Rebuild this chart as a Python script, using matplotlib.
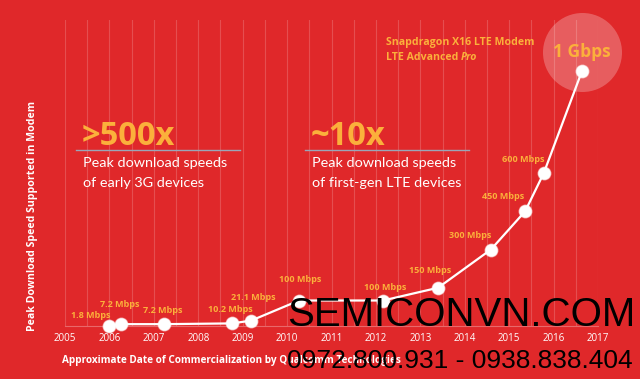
import matplotlib
matplotlib.use("Agg")
import matplotlib.pyplot as plt
import matplotlib.transforms as mtransforms

# ---- data ----
years = [2006.0, 2006.26, 2007.23, 2008.76, 2009.19, 2010.27, 2012.16,
         2013.40, 2014.59, 2015.36, 2015.78, 2016.64]
speeds = [1.8, 7.2, 7.2, 10.2, 21.1, 100, 100, 150, 300, 450, 600, 1000]
labels = ["1.8 Mbps", "7.2 Mbps", "7.2 Mbps", "10.2 Mbps", "21.1 Mbps",
          "100 Mbps", "100 Mbps", "150 Mbps", "300 Mbps", "450 Mbps",
          "600 Mbps", None]
# label offsets in pixels (dx, dy) relative to each point
label_offsets = [(-19, 10), (-1, 20), (-1, 14), (-2, 14), (2, 23), (1, 21),
                 (2, 13), (-8, 17), (-21, 14), (-22, 15), (-21, 14), None]
year_ticks = list(range(2005, 2018))

RED = "#E0282A"
ORANGE = "#FBB03B"
W, H = 640, 379

fig = plt.figure(figsize=(6.4, 3.79), dpi=100, facecolor=RED)
ax = fig.add_axes([65 / W, (H - 326) / H, (598 - 65) / W, (326 - 20) / H])
ax.set_facecolor(RED)
ax.set_xlim(2005, 2017)
ax.set_ylim(0, 1200)

# vertical half-year grid
ax.set_xticks(year_ticks)
ax.set_xticks([y + 0.5 for y in year_ticks[:-1]], minor=True)
ax.grid(axis="x", which="both", color="white", alpha=0.18, lw=0.8)
ax.set_yticks([])
for s in ["top", "right", "left"]:
    ax.spines[s].set_visible(False)
ax.spines["bottom"].set_color((1, 1, 1, 0.3))
ax.spines["bottom"].set_linewidth(0.8)
ax.tick_params(axis="x", which="both", length=0, pad=5, labelsize=7,
               labelcolor="white")
for t in ax.get_xticklabels():
    t.set_fontfamily("Open Sans")

px = 0.72  # points per pixel at 100 dpi

# highlight circle around the 1 Gbps point
hl = mtransforms.offset_copy(ax.transData, fig=fig, x=0, y=19 * px, units="points")
ax.plot([years[-1]], [speeds[-1]], marker="o", markersize=79 * px,
        color="white", alpha=0.25, markeredgewidth=0, transform=hl,
        clip_on=False, zorder=2)
ax.text(years[-1], speeds[-1], "1 Gbps", transform=hl, ha="center",
        va="center", color=ORANGE, fontsize=12.5, fontweight="bold",
        fontfamily="Open Sans", zorder=5)

ax.plot(years, speeds, color="white", lw=1.6, marker="o", markersize=9,
        markerfacecolor="white", markeredgecolor=(1, 1, 1, 0.6),
        clip_on=False, zorder=4)

for x, y, lab, off in zip(years, speeds, labels, label_offsets):
    if lab is None:
        continue
    ax.annotate(lab, (x, y), xytext=(off[0] * px, off[1] * px),
                textcoords="offset points", ha="center", va="center",
                color=ORANGE, fontsize=6.5, fontweight="bold",
                fontfamily="Open Sans", zorder=5)

# axis titles
fig.text(33 / W, 1 - 216 / H, "Peak Download Speed Supported in Modem",
         rotation=90, ha="center", va="center", color="white", fontsize=7.6,
         fontweight="bold", fontfamily="Open Sans")
fig.text(62 / W, 1 - 360 / H,
         "Approximate Date of Commercialization by Qualcomm Technologies",
         ha="left", va="center", color="white", fontsize=7.2,
         fontweight="bold", fontfamily="Open Sans")

# callouts
for x0, x1, big, l1, l2 in [(76, 240, ">500x", "Peak download speeds", "of early 3G devices"),
                            (305, 469, "~10x", "Peak download speeds", "of first-gen LTE devices")]:
    fig.text((x0 + 6) / W, 1 - 145 / H, big, ha="left", va="baseline",
             color=ORANGE, fontsize=23.5, fontweight="bold", fontfamily="Open Sans")
    fig.add_artist(plt.Line2D([x0 / W, x1 / W], [1 - 150 / H, 1 - 150 / H],
                              color="#9AA6B8", lw=1.0))
    fig.text((x0 + 7) / W, 1 - 163 / H, l1, ha="left", va="center",
             color="white", fontsize=10.4, fontfamily="Lato")
    fig.text((x0 + 7) / W, 1 - 183 / H, l2, ha="left", va="center",
             color="white", fontsize=10.4, fontfamily="Lato")

# product callout
fig.text(386 / W, 1 - 42 / H, "Snapdragon X16 LTE Modem", ha="left",
         va="center", color=ORANGE, fontsize=7.6, fontweight="bold",
         fontfamily="Open Sans")
t1 = fig.text(386 / W, 1 - 57 / H, "LTE Advanced ", ha="left", va="center",
              color=ORANGE, fontsize=7.6, fontweight="bold", fontfamily="Open Sans")
fig.canvas.draw()
bb = t1.get_window_extent()
fig.text(bb.x1 / W, 1 - 57 / H, "Pro", ha="left", va="center", color=ORANGE,
         fontsize=7.6, fontweight="bold", fontstyle="italic", fontfamily="Open Sans")

# watermark, sized to span its target width
def fitted_text(x, y, s, width_px, size0):
    t = fig.text(x / W, 1 - y / H, s, ha="left", va="baseline", color="black",
                 fontsize=size0, fontfamily="Liberation Sans", zorder=10)
    fig.canvas.draw()
    w = t.get_window_extent().width
    t.set_fontsize(size0 * width_px / w)
    return t

fitted_text(287, 326, "SEMICONVN.COM", 348, 30)
fitted_text(287, 368, "0972.800.931 - 0938.838.404", 347, 20)

fig.savefig("out.png", dpi=100, facecolor=RED)
